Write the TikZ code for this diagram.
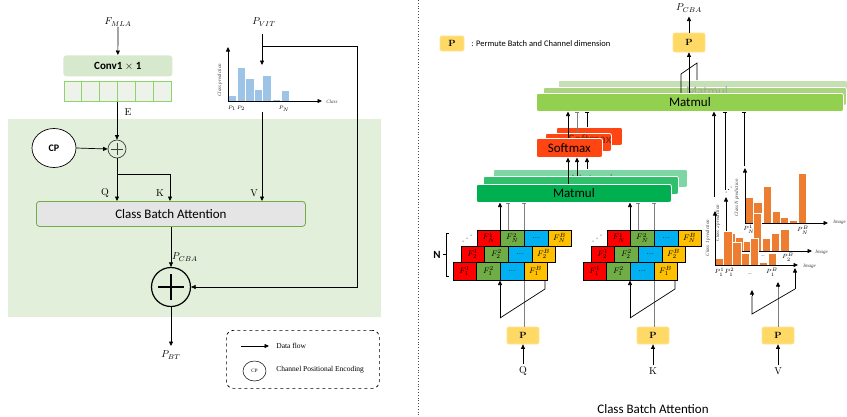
\documentclass[tikz,border=0pt]{standalone}
\usepackage{fontspec}
\setsansfont{Carlito}
\newfontfamily\tnr{Liberation Serif}
\usetikzlibrary{arrows.meta,shapes.geometric,calc}
\definecolor{bggreen}{HTML}{E2EFDA}
\definecolor{convgreen}{HTML}{D6E9CC}
\definecolor{cellfill}{HTML}{EDF2EA}
\definecolor{celledge}{HTML}{8ED46A}
\definecolor{cbafill}{HTML}{E5E5E5}
\definecolor{cbaedge}{HTML}{70AD47}
\definecolor{barblue}{HTML}{9DC3E6}
\definecolor{pyellow}{HTML}{FFD966}
\definecolor{mred}{HTML}{FF0000}
\definecolor{mgreen}{HTML}{70AD47}
\definecolor{mblue}{HTML}{00B0F0}
\definecolor{myellow}{HTML}{FFC000}
\definecolor{mmA}{HTML}{00B050}
\definecolor{mmB}{HTML}{30BF6B}
\definecolor{mmC}{HTML}{7DD6A3}
\definecolor{tmA}{HTML}{92D050}
\definecolor{tmB}{HTML}{AAD47F}
\definecolor{tmC}{HTML}{C5E0B4}
\definecolor{smred}{HTML}{FF4512}
\definecolor{barorange}{HTML}{ED7D31}
\definecolor{greyline}{HTML}{7F7F7F}

\newcommand{\mcell}[6]{% x, y, h, colour, name, label
  \draw[fill=#4, line width=0.6pt] (#1,#2) rectangle ++(23.6,#3);
  \node[font=\fontsize{8.5}{9}\selectfont] (#5) at ($(#1,#2)+(11.8,#3/2)$) {#6};
}
\newcommand{\mstack}[2]{%
  \foreach \rw/\rx/\ry/\rh in {N/477/230/16,2/461/246/16,1/453/262/18}{%
    \mcell{\rx+#1}{\ry}{\rh}{mred}{#2\rw A}{$F_{\rw}^{1}$}
    \mcell{\rx+#1+23.6}{\ry}{\rh}{mgreen}{#2\rw B}{$F_{\rw}^{2}$}
    \mcell{\rx+#1+47.2}{\ry}{\rh}{mblue}{#2\rw C}{...}
    \mcell{\rx+#1+70.8}{\ry}{\rh}{myellow}{#2\rw D}{$F_{\rw}^{B}$}
  }%
  \fill (463+#1,241) circle (0.5) (467+#1,238) circle (0.5) (471+#1,235) circle (0.5);
}
\newcommand{\stacklines}[1]{%
  \draw[greyline, tend] (524+#1,327) -- (524+#1,202.5);
  \draw[greyline, tend] (508+#1,230) -- (508+#1,202.5);
  \draw[->] (500+#1,230) -- (500+#1,202.5);
}
\newcommand{\stackzig}[1]{%
  \draw (545+#1,280) -- (545+#1,289) -- (500+#1,318);
  \draw[->] (500+#1,318) -- (500+#1,280.5);
}

\begin{document}
\begin{tikzpicture}[x=1pt,y=-1pt,
  >={Triangle[length=4.5pt,width=4pt]},
  line width=0.7pt,
  every node/.style={inner sep=0pt},
  mathlab/.style={font=\fontsize{10}{12}\selectfont},
  layer/.style={draw=white, line width=0.8pt, rounded corners=2pt, minimum height=18, anchor=north west},
  pbox/.style={fill=pyellow, draw=pyellow!70!white, rounded corners=2pt, minimum width=32, minimum height=17, font=\bfseries\fontsize{9}{10}\selectfont},
  tend/.style={-{Bar[width=4pt]}},
  tinylab/.style={font=\tnr\itshape\fontsize{5}{6}\selectfont, text=black!75},
  smallmath/.style={font=\fontsize{6.5}{7}\selectfont},
]
\useasboundingbox (0,0) rectangle (847,416);

%================ LEFT PANEL ================
\fill[bggreen] (8,119) rectangle (381,317);

\node[mathlab] (fmla) at (118,22) {$F_{MLA}$};
\node[fill=convgreen, rounded corners=3pt, minimum width=109, minimum height=21, anchor=north west,
      font=\sffamily\bfseries\fontsize{11}{13}\selectfont] (conv) at (63,55) {Conv1 $\times$ 1};
\draw[->] (fmla.south) -- (conv.north);
\node[minimum width=107, minimum height=20, anchor=north west] (emb) at (64,81) {};
\foreach \i in {0,...,5} \draw[celledge, fill=cellfill, line width=0.8pt] (64+\i*17.83,81) rectangle ++(17.83,20);

\node[circle, draw=black!75, fill=bggreen, minimum size=18] (plus1) at (117,149) {};
\draw[black!75] ($(plus1)+(-6,0)$) -- ($(plus1)+(6,0)$) ($(plus1)+(0,-6)$) -- ($(plus1)+(0,6)$);
\draw[->] (plus1 |- emb.south) -- (plus1.north);
\node[mathlab] (elab) at (128,112) {E};

\node[ellipse, draw, fill=white, minimum width=44, minimum height=39,
      font=\sffamily\bfseries\fontsize{10}{12}\selectfont] (cp) at (54,148) {CP};
\draw[->] (cp.east) -- (plus1.west);

\node[draw=cbaedge, fill=cbafill, rounded corners=3pt, line width=0.8pt, minimum width=269, minimum height=25,
      anchor=north west, font=\sffamily\fontsize{13}{15}\selectfont] (cba) at (36,201) {Class Batch Attention};
\draw[->] (plus1.south) -- (plus1 |- cba.north);
\coordinate (kbr) at ($(plus1.south)+(0,16)$);
\coordinate (kin) at (170,201);
\draw[->] (kbr) -| (kin);
\node[mathlab] (qlabL) at (105,193) {Q};
\node[mathlab] (klabL) at (160,193) {K};
\node[mathlab] (vlabL) at (254,193) {V};

% left histogram
\node[minimum width=94, minimum height=54, anchor=south west] (histL) at (228,101) {};
\foreach \a/\b/\t in {228/236/95, 237/245/67, 245/254/78, 254/262/89, 262/271/75, 272/280/99, 281/289/90}
  \path[fill=barblue, draw=white, line width=0.5pt] (\a,101) rectangle (\b,\t);
\draw[->] (228,101) -- (228,47);
\draw[->] (228,101) -- (322,101);
\node[tinylab, rotate=90] at (220,80) {Class prediction};
\node[tinylab, anchor=west] at (326,101.5) {Class};
\node[font=\fontsize{5}{6}\selectfont] at (232,108.5) {$P_1$};
\node[font=\fontsize{5}{6}\selectfont] at (241,108.5) {$P_2$};
\node[font=\fontsize{5}{6}\selectfont] at (284,108.5) {$P_N$};

\node[mathlab] (pvit) at (264,22) {$P_{VIT}$};
\coordinate (histtop) at (262,65);
\coordinate (vbr) at (262,46);
\draw (262,34) -- (vbr);
\draw[->] (vbr) -- (histtop);
\node[circle, draw, line width=1.2pt, minimum size=39] (bigplus) at (171,287) {};
\draw[line width=1.2pt] ($(bigplus)+(-13,0)$) -- ($(bigplus)+(13,0)$) ($(bigplus)+(0,-13)$) -- ($(bigplus)+(0,13)$);
\draw[->] (vbr) -- (357,46) -- (357,287) -- (bigplus.east);
\coordinate (vbot) at (262,112);
\draw[->] (vbot) -- (262,201);
\draw[->] (bigplus |- cba.south) -- (bigplus.north);
\node[mathlab] (pcbaL) at (185,257) {$P_{CBA}$};
\node[mathlab] (pbt) at (171,355) {$P_{BT}$};
\draw[->] (bigplus.south) -- (171,346);

% legend
\node[draw, dashed, rounded corners=7pt, line width=0.7pt, minimum width=153, minimum height=58, anchor=north west] (legend) at (226,330) {};
\coordinate (lgA) at (241,346);
\coordinate (lgB) at (269,346);
\draw[->] (lgA) -- (lgB);
\node[anchor=west, font=\tnr\fontsize{7.5}{9}\selectfont] at (276,346) {Data flow};
\node[ellipse, draw, line width=0.5pt, minimum width=23, minimum height=20, font=\tnr\fontsize{5}{6}\selectfont] (cpl) at (254.5,371) {CP};
\node[anchor=west, font=\tnr\fontsize{7.5}{9}\selectfont] at (276,370) {Channel Positional Encoding};

% divider
\draw[dotted, line width=0.8pt, black!70] (418,0) -- (418,416);

%================ RIGHT PANEL ================
\node[pbox, minimum width=24, minimum height=15] (plegend) at (452,43.5) {P};
\node[anchor=west, font=\sffamily\fontsize{8.5}{10}\selectfont] at (471,43.5) {: Permute Batch and Channel dimension};

% P boxes bottom
\node[pbox] (pq) at (523,335.5) {P};
\node[pbox] (pk) at (653,335.5) {P};
\node[pbox] (pv) at (778,335.5) {P};
\node[mathlab] (qlab) at (523,371) {Q};
\node[mathlab] (klab) at (653,371) {K};
\node[mathlab] (vlab) at (778,371) {V};
\draw[->] (qlab.north) ++(0,-2) -- (pq.south);
\draw[->] (klab.north) ++(0,-2) -- (pk.south);
\draw[->] (vlab.north) ++(0,-2) -- (pv.south);
\node[font=\sffamily\fontsize{13}{15}\selectfont] (caption) at (653,409) {Class Batch Attention};

% lines behind matrices
\stacklines{0}
\stacklines{130}

% matrices
\mstack{0}{q}
\mstack{130}{k}
\stackzig{0}
\stackzig{130}

% N bracket
\draw[line width=0.6pt] (449,233) -- (446,233) -- (446,276) -- (449,276) (446,254.5) -- (443,254.5);
\node[font=\sffamily\bfseries\fontsize{11}{13}\selectfont] (nlab) at (437,254.5) {N};

% bottom Matmul stack
\node[layer, fill=mmC, minimum width=194] (mmB3) at (493,169) {};
\node[font=\sffamily\fontsize{13}{15}\selectfont, text=black!50] at (592,179.5) {Matmul};
\node[layer, fill=mmB, minimum width=195] (mmB2) at (483,176) {};
\node[layer, fill=mmA, minimum width=195, font=\sffamily\fontsize{13}{15}\selectfont] (mmB1) at (476,184) {Matmul};

% softmax stack
\node[layer, fill=smred, minimum width=66] (sm3) at (556,127) {};
\node[layer, fill=smred, minimum width=66] (sm2) at (545,133) {};
\node[font=\sffamily\fontsize{13}{15}\selectfont, text=black!45!smred] at (590,139) {Softmax};
\node[layer, fill=smred, minimum width=66, minimum height=19, font=\sffamily\fontsize{13}{15}\selectfont] (sm1) at (536,138) {Softmax};

\draw[->] (568,184) -- (568,157.5);
\draw[->] (577,176) -- (577,157.5);
\draw[->] (587,169) -- (587,157.5);

% top Matmul stack
\node[layer, fill=tmC, minimum width=289] (mmT3) at (558,80) {};
\node[layer, fill=tmB, minimum width=303] (mmT2) at (543,87) {};
\node[font=\sffamily\fontsize{13}{15}\selectfont, text=black!35] at (707,91) {Matmul};
\node[layer, fill=tmA, minimum width=307, font=\sffamily\fontsize{13}{15}\selectfont] (mmT1) at (536,93) {Matmul};

\draw[->] (568,138) -- (568,111.5);
\draw[greyline, tend] (577,133) -- (577,111.5);
\draw[tend] (587,127) -- (587,111.5);

% top P
\node[pbox, minimum height=19] (ptop) at (689,42.5) {P};
\draw[->] (689,93) -- (ptop.south);
\draw (681,93) -- (681,74) -- (697,63) -- (697,80);
\node[mathlab] (pcbaR) at (689,8) {$P_{CBA}$};
\draw[->] (ptop.north) -- (689,16.5);

% histograms -> top Matmul
\draw[->] (714,197) -- (714,111.5);
\draw[tend] (725,190) -- (725,111.5);
\draw[tend] (744,166) -- (744,111.5);
\fill (726,192) circle (0.5) (728.5,189.5) circle (0.5) (731,187) circle (0.5);

% histogram N
\foreach \a/\b/\t in {745/753/197, 753/762/202, 763/771/186, 772/780/211, 780/788/217, 789/797/220, 798/806/173}
  \path[fill=barorange, draw=white, line width=0.6pt] (\a,223) rectangle (\b,\t);
\draw[->] (745,223) -- (745,168);
\draw[->] (745,223) -- (828,223);
\node[tinylab, rotate=90] at (737,198) {Class N prediction};
\node[tinylab, anchor=west] at (833,222.5) {Image};
\node[smallmath] at (749,229) {$P_N^1$};
\node[smallmath] at (803,230) {$P_N^B$};

% histogram 2
\foreach \a/\b/\t in {727/735/233, 735/743/237, 743/751/241, 753/761/213, 762/770/238, 771/779/233, 780/789/229}
  \path[fill=barorange, draw=white, line width=0.6pt] (\a,251) rectangle (\b,\t);
\draw[->] (726,251) -- (726,197);
\draw[->] (726,251) -- (812,251);
\node[tinylab, rotate=90] at (718,223) {Class 2 prediction};
\node[tinylab, anchor=west] at (815,252) {Image};
\node[smallmath] at (788,257) {$P_2^B$};
\node[smallmath] at (763,257) {--};

% histogram 1
\foreach \a/\b/\t in {715/723/258, 723/732/231, 732/741/242, 741/749/253, 750/758/238, 759/767/262, 768/776/253}
  \path[fill=barorange, draw=white, line width=0.6pt] (\a,265) rectangle (\b,\t);
\draw[->] (715,265) -- (715,211);
\draw[->] (715,265) -- (798,265);
\node[tinylab, rotate=90] at (708,238) {Class 1 prediction};
\node[tinylab, anchor=west] at (803,266) {Image};
\node[smallmath] at (719.5,272) {$P_1^1$};
\node[smallmath] at (729.5,272) {$P_1^2$};
\node[smallmath] at (750,275) {--};
\node[smallmath] at (772,272) {$P_1^B$};

% V arrows under histograms
\draw[greyline] (pv.north) -- (778,286);
\draw[->] (778,286) -- (778,282);
\draw (795,289) -- (752,314) -- (752,296);
\draw[->] (752,296) -- (752,290);
\draw[->] (795,289) -- (795,268);
\end{tikzpicture}
\end{document}
